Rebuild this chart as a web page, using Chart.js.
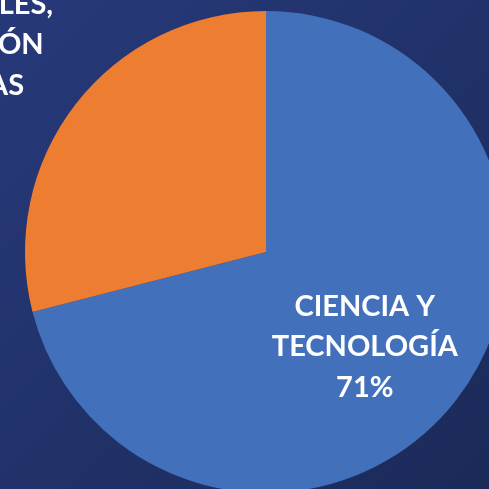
<!DOCTYPE html>
<html>
<head>
<meta charset="utf-8">
<script src="https://cdn.jsdelivr.net/npm/chart.js@4.4.1/dist/chart.umd.min.js"></script>
<style>
  html, body {
    margin: 0;
    width: 489px;
    height: 489px;
    overflow: hidden;
    background: linear-gradient(135deg, #27397a 0%, #21326a 50%, #1b2a58 100%);
  }
  .wrap {
    position: absolute;
    left: -175px;
    top: -189px;
    width: 882px;
    height: 882px;
  }
</style>
</head>
<body>
<div class="wrap"><canvas id="pie"></canvas></div>
<script>
const categories = [
  ['CIENCIA Y', 'TECNOLOGÍA'],
  ['CIENCIAS SOCIALES,', 'DE LA EDUCACIÓN', 'Y ECONÓMICAS']
];
const shares = [71, 29];
const sliceColors = ['#4270bb', '#ed7d31'];

// labels are placed relative to the pie centre, in units of the radius
const labelSpots = [
  { fx: 0.41, fy: 0.394 },
  { fx: -1.463, fy: -0.776 }
];

let sliceLabels = {
  id: 'sliceLabels',
  afterDatasetsDraw(chart) {
    let ctx = chart.ctx;
    let arcs = chart.getDatasetMeta(0).data;
    ctx.save();
    ctx.fillStyle = '#ffffff';
    ctx.font = 'bold 29px Lato';
    ctx.textAlign = 'center';
    ctx.textBaseline = 'middle';
    arcs.forEach((arc, i) => {
      let lines = categories[i].concat(shares[i] + '%');
      let x = arc.x + labelSpots[i].fx * arc.outerRadius;
      let y = arc.y + labelSpots[i].fy * arc.outerRadius;
      let lh = 40.5;
      let top = y - (lines.length - 1) * lh / 2;
      lines.forEach((t, k) => ctx.fillText(t, x, top + k * lh));
    });
    ctx.restore();
  }
};

new Chart(document.getElementById('pie'), {
  type: 'pie',
  data: {
    labels: categories.map(c => c.join(' ')),
    datasets: [{
      data: shares,
      backgroundColor: sliceColors,
      borderWidth: 0
    }]
  },
  options: {
    responsive: true,
    maintainAspectRatio: false,
    animation: false,
    layout: { padding: 200 },
    plugins: {
      legend: { display: false },
      tooltip: { enabled: false }
    }
  },
  plugins: [sliceLabels]
});
</script>
</body>
</html>
